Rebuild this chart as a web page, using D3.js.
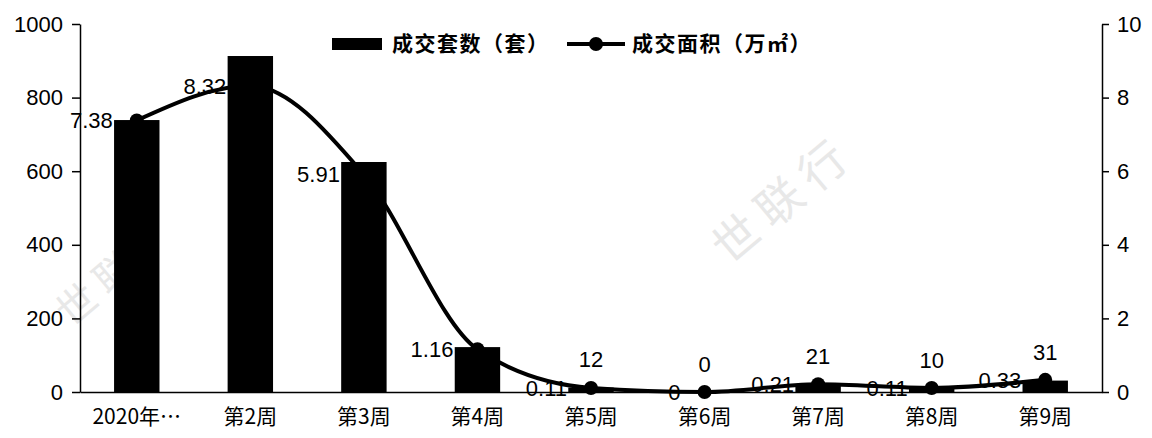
<!DOCTYPE html>
<html><head><meta charset="utf-8">
<script src="https://cdn.jsdelivr.net/npm/d3@7"></script>
<style>
html,body{margin:0;padding:0;background:#fff;}
svg{display:block;}
</style></head>
<body>
<svg id="chart" width="1152" height="438"></svg>
<script>
const categories = ["2020年…","第2周","第3周","第4周","第5周","第6周","第7周","第8周","第9周"];
const dealCounts = [739, 913, 625, 122, 12, 0, 21, 10, 31];
const dealAreas = [7.38, 8.32, 5.91, 1.16, 0.11, 0, 0.21, 0.11, 0.33];
const leftTicks = [0, 200, 400, 600, 800, 1000];
const rightTicks = [0, 2, 4, 6, 8, 10];
const seriesNames = ["成交套数（套）", "成交面积（万㎡）"];

const svg = d3.select("#chart");
const W = 1152, H = 438;
const m = {left: 80, right: 50, top: 24, bottom: 46};
const numFont = "'Liberation Sans', Arial, sans-serif";
const cjkFont = "'Noto Sans CJK SC', 'Liberation Sans', sans-serif";

// watermark
const wm = svg.append("g").attr("fill", "#e8e8e8").attr("font-family", cjkFont).attr("font-size", 46);
wm.append("text").attr("transform", "translate(790,215) rotate(-40)").attr("text-anchor", "middle").text("世 联 行");
wm.append("text").attr("transform", "translate(105,300) rotate(-40)").attr("text-anchor", "middle").attr("font-size", 40).text("世 联");

const x = d3.scaleBand().domain(categories).range([m.left, W - m.right]).paddingInner(0.6).paddingOuter(0.3);
const y = d3.scaleLinear().domain([0, 1000]).range([H - m.bottom, m.top]);
const y2 = d3.scaleLinear().domain([0, 10]).range([H - m.bottom, m.top]);
const cx = c => x(c) + x.bandwidth() / 2;

// line labels (drawn under bars)
const lineLabels = svg.append("g").attr("font-family", numFont).attr("font-size", 22).attr("fill", "#000");
lineLabels.selectAll("text").data(dealAreas).join("text")
  .attr("x", (d, i) => cx(categories[i]) - 24)
  .attr("y", (d, i) => y2(d))
  .attr("dy", "0.35em")
  .attr("text-anchor", "end")
  .text(d => d);

// line
const lineGen = d3.line()
  .x((d, i) => cx(categories[i]))
  .y(d => y2(d))
  .curve(d3.curveMonotoneX);
svg.append("path").datum(dealAreas).attr("d", lineGen)
  .attr("fill", "none").attr("stroke", "#000").attr("stroke-width", 4);
svg.append("g").selectAll("circle").data(dealAreas).join("circle")
  .attr("cx", (d, i) => cx(categories[i]))
  .attr("cy", d => y2(d)).attr("r", 7).attr("fill", "#000");

// bars
svg.append("g").selectAll("rect").data(dealCounts).join("rect")
  .attr("x", (d, i) => x(categories[i]))
  .attr("width", x.bandwidth())
  .attr("y", d => y(d))
  .attr("height", d => y(0) - y(d))
  .attr("fill", "#000");

// bar labels
svg.append("g").attr("font-family", numFont).attr("font-size", 22).attr("fill", "#000")
  .selectAll("text").data(dealCounts).join("text")
  .attr("x", (d, i) => cx(categories[i]))
  .attr("y", d => d > 100 ? y(d) + 14 : y(d) - 28)
  .attr("dy", "0.35em")
  .attr("text-anchor", "middle")
  .text(d => d);

// axes
const gl = svg.append("g").attr("transform", `translate(${m.left},0)`)
  .call(d3.axisLeft(y).tickValues(leftTicks).tickFormat(d3.format("d")).tickSize(8).tickSizeOuter(0).tickPadding(9));
const gr = svg.append("g").attr("transform", `translate(${W - m.right},0)`)
  .call(d3.axisRight(y2).tickValues(rightTicks).tickSize(7).tickSizeOuter(0).tickPadding(8));
const gx = svg.append("g").attr("transform", `translate(0,${H - m.bottom})`)
  .call(d3.axisBottom(x).tickSize(0).tickSizeOuter(0).tickPadding(17));
[gl, gr].forEach(g => {
  g.selectAll("text").attr("font-family", numFont).attr("font-size", 22).attr("fill", "#000");
  g.select(".domain").attr("stroke", "#000").attr("stroke-width", 1.5);
  g.selectAll(".tick line").attr("stroke", "#000").attr("stroke-width", 1.5);
});
gx.selectAll("text").attr("font-family", cjkFont).attr("font-size", 21).attr("fill", "#000");
gx.select(".domain").attr("stroke", "#000").attr("stroke-width", 1.5);

// legend
const lg = svg.append("g").attr("font-family", cjkFont).attr("font-size", 21).attr("font-weight", 700)
  .attr("letter-spacing", 1.5).attr("fill", "#000");
lg.append("rect").attr("x", 332).attr("y", 38).attr("width", 50).attr("height", 12).attr("fill", "#000");
lg.append("text").attr("x", 392).attr("y", 44).attr("dy", "0.35em").text(seriesNames[0]);
lg.append("line").attr("x1", 567).attr("x2", 625).attr("y1", 44).attr("y2", 44).attr("stroke", "#000").attr("stroke-width", 4);
lg.append("circle").attr("cx", 596).attr("cy", 44).attr("r", 7).attr("fill", "#000");
lg.append("text").attr("x", 632).attr("y", 44).attr("dy", "0.35em").text(seriesNames[1]);
</script>
</body></html>
